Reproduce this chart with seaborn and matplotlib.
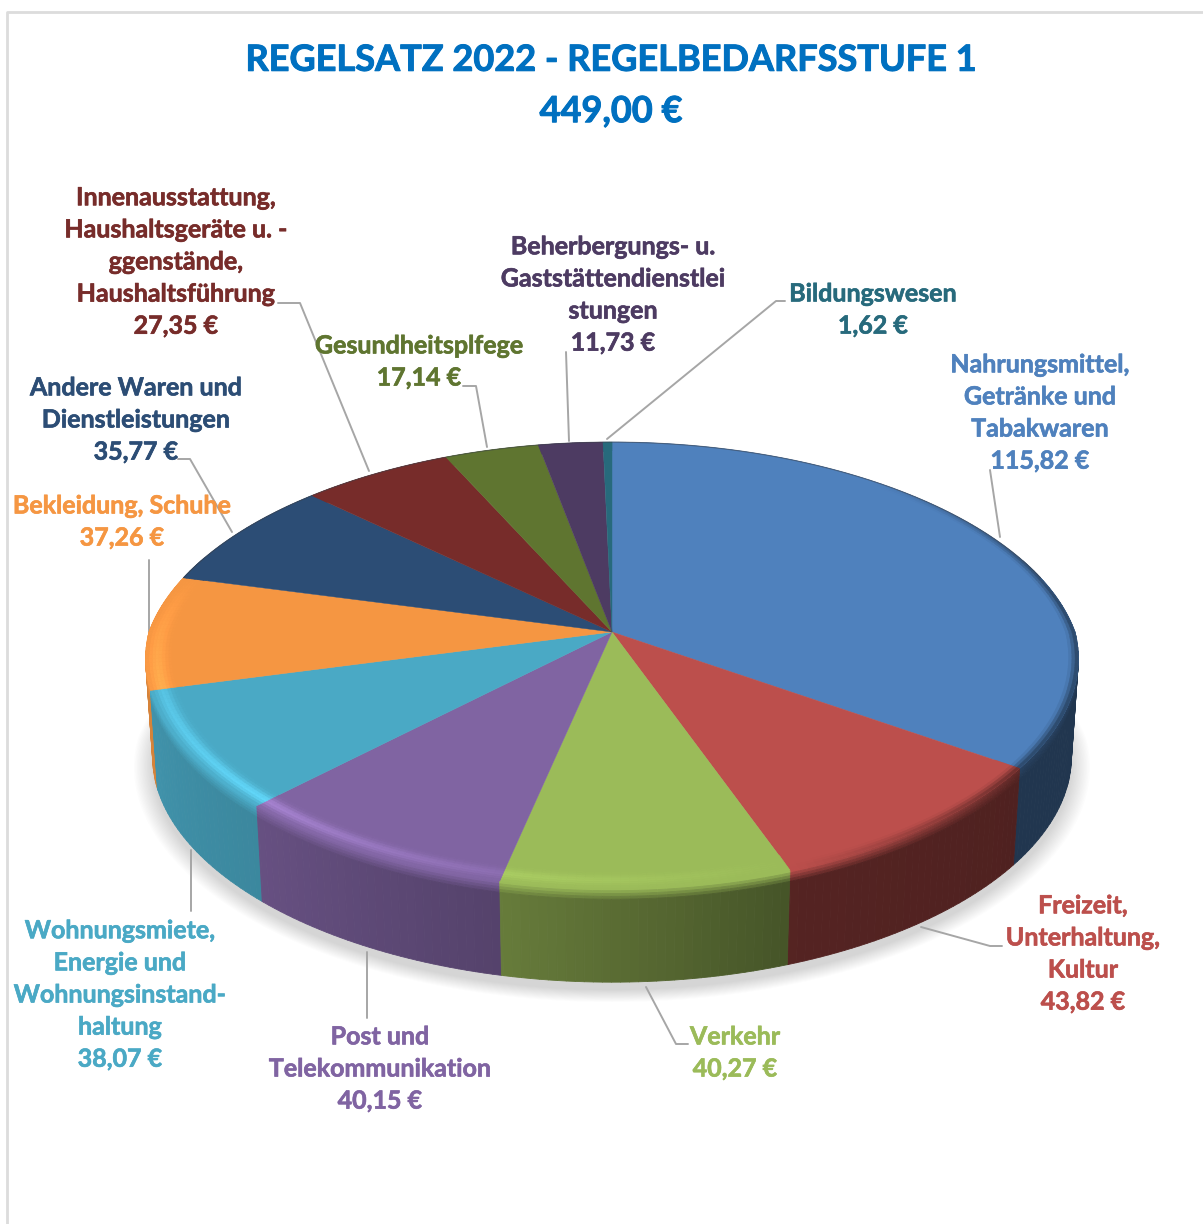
import numpy as np
import seaborn as sns
import matplotlib
matplotlib.use('Agg')
import matplotlib.pyplot as plt
import matplotlib.patheffects as pe
from matplotlib.collections import PolyCollection

sns.set_theme(style='white')
plt.rcParams['font.family'] = ['Lato', 'DejaVu Sans']

title_lines = 'REGELSATZ 2022 - REGELBEDARFSSTUFE 1\n449,00 €'

categories = [
    'Nahrungsmittel,\nGetränke und\nTabakwaren',
    'Freizeit,\nUnterhaltung,\nKultur',
    'Verkehr',
    'Post und\nTelekommunikation',
    'Wohnungsmiete,\nEnergie und\nWohnungsinstand-\nhaltung',
    'Bekleidung, Schuhe',
    'Andere Waren und\nDienstleistungen',
    'Innenausstattung,\nHaushaltsgeräte u. -\nggenstände,\nHaushaltsführung',
    'Gesundheitsplfege',
    'Beherbergungs- u.\nGaststättendienstlei\nstungen',
    'Bildungswesen',
]
# printed labels
label_values = [115.82, 43.82, 40.27, 40.15, 38.07, 37.26, 35.77, 27.35, 17.14, 11.73, 1.62]
# the drawn blue slice is bigger than its label says, it fits 155,82 of 449
slice_values = [155.82, 43.82, 40.27, 40.15, 38.07, 37.26, 35.77, 27.35, 17.14, 11.73, 1.62]

slice_colors = ['#4F81BD', '#BC4F4C', '#9BBB59', '#8064A2', '#4AA9C5', '#F59642',
                '#2C4D75', '#772C2A', '#5F7530', '#4D3B62', '#276A7C']
palette = np.array(sns.color_palette(slice_colors))

# label block centres and leader lines, in pixels
label_pos = [(1040, 413), (1083, 954), (735, 1053), (380, 1069), (120, 995), (122, 522),
             (136, 420), (176, 262), (419, 362), (613, 295), (873, 310)]
leaders = [
    [(1000, 537), (990, 470)],
    [(921, 927), (990, 946), (1002, 946)],
    [(646, 987), (676, 1044), (688, 1044)],
    [(367, 952), (367, 1018)],
    [(191, 850), (191, 911)],
    [(149, 632), (149, 560)],
    [(232, 532), (190, 459), (178, 459)],
    [(369, 471), (300, 303), (278, 303)],
    [(487, 447), (476, 386), (463, 386)],
    [(569, 441), (566, 352)],
    [(607, 439), (776, 301), (785, 301)],
]

cx, cy = 612, 632
a, b = 463, 218  # top disc
kx_front, kx_back, ky = 0.12, 0.17, 0.148  # a bit of perspective
a2, b2, cy2 = 456, 214, 731  # bottom disc


def squeeze(c):
    return 1 + np.where(c < 0, kx_front, kx_back) * c


def top_xy(r, th):
    th = np.radians(th)
    c = r * np.cos(th)
    return cx + a * r * np.sin(th) / squeeze(c), cy - b * c / (1 + ky * c)


def bottom_xy(r, th):
    th = np.radians(th)
    c = r * np.cos(th)
    return cx + a2 * r * np.sin(th) / squeeze(c), cy2 - b2 * c / (1 + ky * c)


def wall_shade(th):
    return np.interp(th, [0, 125, 160, 192, 224, 255, 285, 360],
                     [.42, .42, .45, .66, .80, .87, .9, .9])


def rim_light(th):
    return np.interp(th, [0, 160, 192, 224, 255, 285, 360],
                     [0, 0, .08, .24, .14, 0, 0])


def rim_dark(th):
    return np.interp(th, [0, 40, 80, 124, 160, 360], [0, 0, .5, .5, 0, 0])


fig = plt.figure(figsize=(12.03, 12.24), dpi=100)
ax = fig.add_axes([0, 0, 1, 1])
ax.set_xlim(0, 1203)
ax.set_ylim(1224, 0)
ax.axis('off')

# frame of the chart area
ax.plot([7, 7, 1203], [1224, 12, 12], color='#DCDCDC', lw=2, zorder=1, solid_capstyle='butt')

# soft shadow
full = np.linspace(0, 360, 361)
for s in np.linspace(1.04, 1.0, 14):
    sx, sy = bottom_xy(s, full)
    ax.fill(sx, sy + 8, color='#555555', alpha=0.016, lw=0, zorder=2)

edges = np.cumsum([0] + slice_values) / np.sum(slice_values) * 360

# side wall, back to front
quads = []
for i in range(len(slice_values)):
    th = np.append(np.arange(edges[i], edges[i + 1], 1.0), edges[i + 1])
    for t0, t1 in zip(th[:-1], th[1:]):
        mid = (t0 + t1) / 2
        if np.cos(np.radians(mid)) > 0.35:
            continue
        x0, y0 = top_xy(1, t0)
        x1, y1 = top_xy(1, t1)
        x2, y2 = bottom_xy(1, t1)
        x3, y3 = bottom_xy(1, t0)
        dark = palette[i] * wall_shade(mid)
        start = palette[i] * (1 - rim_dark(mid))
        steps = [0, .03, .06, .09, .12, 1]
        for j in range(len(steps) - 1):
            f0, f1 = steps[j], steps[j + 1]
            mixed = min(f0 / .12, 1)
            col = start * (1 - mixed) + dark * mixed
            quads.append((np.cos(np.radians(mid)),
                          [(x0 + (x3 - x0) * f0, y0 + (y3 - y0) * f0),
                           (x1 + (x2 - x1) * f0, y1 + (y2 - y1) * f0),
                           (x1 + (x2 - x1) * f1, y1 + (y2 - y1) * f1),
                           (x0 + (x3 - x0) * f1, y0 + (y3 - y0) * f1)], col))
quads.sort(key=lambda q: -q[0])
ax.add_collection(PolyCollection([q[1] for q in quads], facecolors=[q[2] for q in quads],
                                 edgecolors='face', linewidths=0.6, zorder=3))

# top face
for i in range(len(slice_values)):
    th = np.linspace(edges[i], edges[i + 1], 80)
    ex, ey = top_xy(1, th)
    ax.fill(np.r_[cx, ex], np.r_[cy, ey], color=palette[i], lw=0.3, zorder=4)

# light bevel along the front rim, dark edge on the right
rim_polys, rim_cols = [], []
rings = np.linspace(.945, 1, 9)
for i in range(len(slice_values)):
    th = np.append(np.arange(edges[i], edges[i + 1], 1.0), edges[i + 1])
    for t0, t1 in zip(th[:-1], th[1:]):
        mid = (t0 + t1) / 2
        for r0, r1 in zip(rings[:-1], rings[1:]):
            rm = (r0 + r1) / 2
            glow = rim_light(mid) * np.exp(-((rm - .975) / .016) ** 2)
            col = np.clip(palette[i] * (1 + glow) + glow * .1, 0, 1)
            col = col * (1 - rim_dark(mid) * np.clip((rm - .98) / .02, 0, 1))
            rim_polys.append([top_xy(r0, t0), top_xy(r0, t1), top_xy(r1, t1), top_xy(r1, t0)])
            rim_cols.append(col)
ax.add_collection(PolyCollection(rim_polys, facecolors=rim_cols, edgecolors='face',
                                 linewidths=0.4, zorder=5))

# thin dark line along the back edge
back = np.linspace(-75, 75, 151)
bx, by = top_xy(1, back)
ax.plot(bx, by, color='#3A3F48', lw=0.8, alpha=0.55, zorder=6)

for pts in leaders:
    xs, ys = zip(*pts)
    ax.plot(xs, ys, color='#A6A6A6', lw=1.4, zorder=2, solid_joinstyle='round')

ax.text(611, 86, title_lines, color='#0070C0', fontsize=26, fontweight='bold',
        ha='center', va='center', linespacing=1.68, zorder=8,
        path_effects=[pe.withStroke(linewidth=0.7, foreground='#0070C0')])

for name, val, (lx, ly), col in zip(categories, label_values, label_pos, slice_colors):
    txt = name + '\n' + f'{val:.2f}'.replace('.', ',') + ' €'
    ax.text(lx, ly, txt, color=col, fontsize=18, fontweight='bold', ha='center',
            va='center', linespacing=1.48, zorder=8,
            path_effects=[pe.withStroke(linewidth=0.45, foreground=col)])

fig.savefig('out.png', dpi=100, facecolor='white')
